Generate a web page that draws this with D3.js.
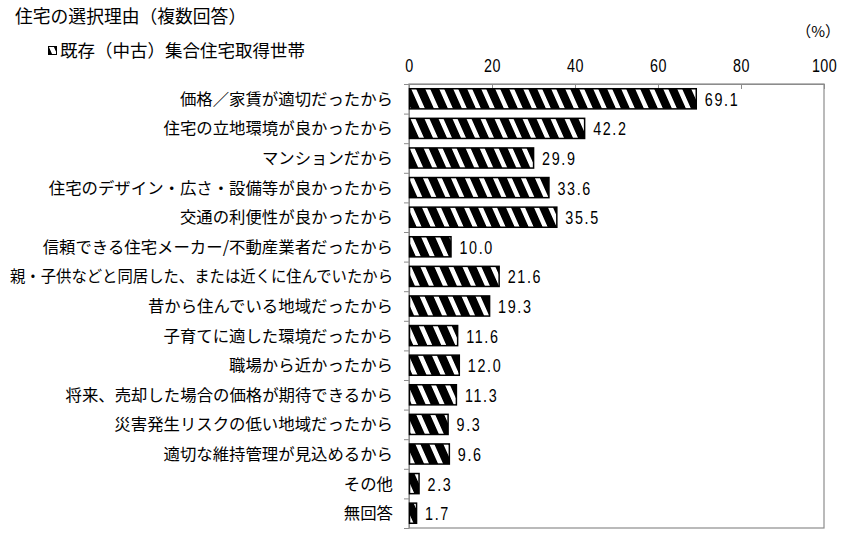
<!DOCTYPE html>
<html>
<head>
<meta charset="utf-8">
<script src="https://cdn.jsdelivr.net/npm/d3@7"></script>
<style>
  body { margin: 0; background: #fff; }
  .jp { font-family: "Noto Sans CJK JP", sans-serif; fill: #000; }
  .num { font-family: "Liberation Sans", Arial, sans-serif; fill: #000; }
</style>
</head>
<body>
<div id="chart"></div>
<script>
// data
var reasons = [
  "価格／家賃が適切だったから",
  "住宅の立地環境が良かったから",
  "マンションだから",
  "住宅のデザイン・広さ・設備等が良かったから",
  "交通の利便性が良かったから",
  "信頼できる住宅メーカー/不動産業者だったから",
  "親・子供などと同居した、または近くに住んでいたから",
  "昔から住んでいる地域だったから",
  "子育てに適した環境だったから",
  "職場から近かったから",
  "将来、売却した場合の価格が期待できるから",
  "災害発生リスクの低い地域だったから",
  "適切な維持管理が見込めるから",
  "その他",
  "無回答"
];
var shares = [69.1, 42.2, 29.9, 33.6, 35.5, 10.0, 21.6, 19.3, 11.6, 12.0, 11.3, 9.3, 9.6, 2.3, 1.7];
var xTicks = [0, 20, 40, 60, 80, 100];

var svgWidth = 860;
var svgHeight = 554;
var margin = { top: 84, right: 36, bottom: 26, left: 409 };
var width = svgWidth - margin.left - margin.right;
var height = svgHeight - margin.top - margin.bottom;

var svg = d3.select("#chart")
  .append("svg")
  .attr("width", svgWidth)
  .attr("height", svgHeight);

// hatch pattern: black with white slanted stripes
var defs = svg.append("defs");
var pat = defs.append("pattern")
  .attr("id", "hatch")
  .attr("patternUnits", "userSpaceOnUse")
  .attr("width", 14)
  .attr("height", 14)
  .attr("patternTransform", "skewX(24)");
pat.append("rect").attr("width", 14).attr("height", 14).attr("fill", "#000");
pat.append("rect").attr("x", 0).attr("width", 5).attr("height", 14).attr("fill", "#fff");

// title + legend
svg.append("text")
  .attr("class", "jp")
  .attr("x", 15)
  .attr("y", 23)
  .attr("font-size", 17.8)
  .text("住宅の選択理由（複数回答）");

svg.append("rect")
  .attr("x", 48.5)
  .attr("y", 46.5)
  .attr("width", 8)
  .attr("height", 8)
  .attr("fill", "url(#hatch)")
  .attr("stroke", "#000");

svg.append("text")
  .attr("class", "jp")
  .attr("x", 60)
  .attr("y", 57)
  .attr("font-size", 17.5)
  .text("既存（中古）集合住宅取得世帯");

svg.append("text")
  .attr("class", "jp")
  .attr("x", 840)
  .attr("y", 37)
  .attr("text-anchor", "end")
  .attr("font-size", 15)
  .text("（%）");

var chartGroup = svg.append("g")
  .attr("transform", `translate(${margin.left}, ${margin.top})`);

var xScale = d3.scaleLinear().domain([0, 100]).range([0, width]);
var yScale = d3.scaleBand().domain(reasons).range([0, height]).paddingInner(0.32).paddingOuter(0.16);
var yEdge = d3.scaleLinear().domain([0, reasons.length]).range([0, height]);

// frame
chartGroup.append("rect")
  .attr("x", 0)
  .attr("y", 0)
  .attr("width", width)
  .attr("height", height)
  .attr("fill", "none")
  .attr("stroke", "#8c8c8c")
  .attr("stroke-width", 1.2);

// top axis
var topAxis = d3.axisTop(xScale).tickValues(xTicks).tickSizeInner(-5).tickSizeOuter(0).tickPadding(12);
var gx = chartGroup.append("g").call(topAxis);
gx.select(".domain").attr("stroke", "#8c8c8c");
gx.selectAll(".tick line").attr("stroke", "#8c8c8c");
gx.selectAll(".tick text").remove();
gx.selectAll(".tick").append("text")
  .attr("class", "num")
  .attr("transform", "translate(0,-12) scale(0.82,1)")
  .attr("text-anchor", "middle")
  .attr("font-size", 17.5)
  .attr("letter-spacing", 0.5)
  .text(d => d);

// left axis ticks at category boundaries
var leftAxis = d3.axisLeft(yEdge).ticks(reasons.length).tickFormat("").tickSizeInner(5).tickSizeOuter(0);
var gy = chartGroup.append("g").call(leftAxis);
gy.select(".domain").attr("stroke", "#8c8c8c");
gy.selectAll(".tick line").attr("stroke", "#8c8c8c");

// category labels
chartGroup.selectAll(".cat")
  .data(reasons)
  .enter().append("text")
  .attr("class", "jp cat")
  .attr("x", -16)
  .attr("y", d => yScale(d) + yScale.bandwidth() / 2)
  .attr("dy", "0.36em")
  .attr("text-anchor", "end")
  .attr("font-size", 16.4)
  .text(d => d)
  .each(function() {
    if (this.getComputedTextLength() > 383) {
      d3.select(this).attr("textLength", 383).attr("lengthAdjust", "spacingAndGlyphs");
    }
  });

// bars
chartGroup.selectAll(".bar")
  .data(shares)
  .enter().append("rect")
  .attr("class", "bar")
  .attr("x", xScale(0) + 0.5)
  .attr("y", (d, i) => yScale(reasons[i]))
  .attr("width", d => xScale(d) - xScale(0))
  .attr("height", yScale.bandwidth())
  .attr("fill", "url(#hatch)")
  .attr("stroke", "#000")
  .attr("stroke-width", 1.5);

// value labels
chartGroup.selectAll(".val")
  .data(shares)
  .enter().append("text")
  .attr("class", "num val")
  .attr("transform", (d, i) => `translate(${xScale(d) + 9}, ${yScale(reasons[i]) + yScale.bandwidth() / 2 + 7}) scale(0.82,1)`)
  .attr("font-size", 17.5)
  .attr("letter-spacing", 2)
  .text(d => d.toFixed(1));
</script>
</body>
</html>
